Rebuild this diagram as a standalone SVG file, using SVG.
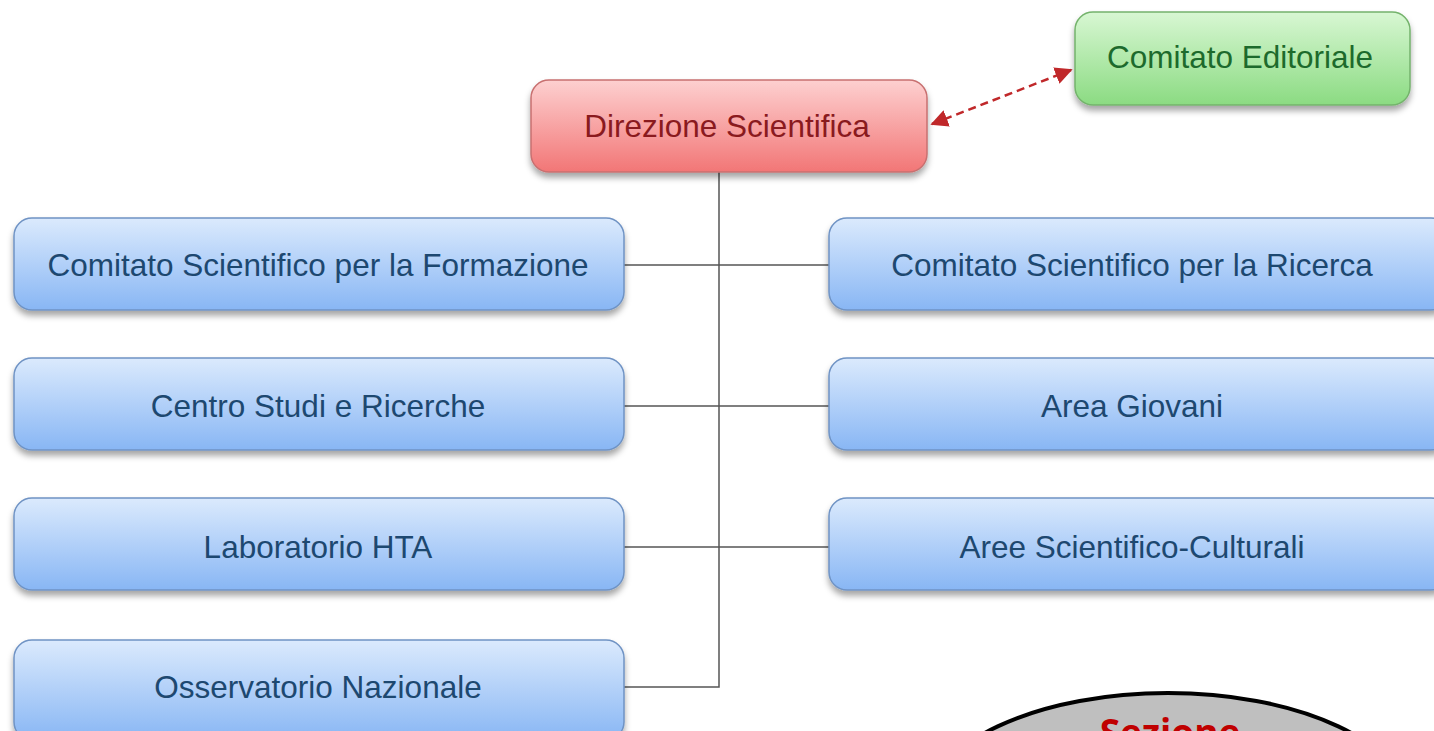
<svg xmlns="http://www.w3.org/2000/svg" width="1434" height="731" viewBox="0 0 1434 731">
<defs>
<linearGradient id="gBlue" x1="0" y1="0" x2="0" y2="1"><stop offset="0" stop-color="#dbeafd"/><stop offset="1" stop-color="#88b6f4"/></linearGradient>
<linearGradient id="gRed" x1="0" y1="0" x2="0" y2="1"><stop offset="0" stop-color="#fdd0d0"/><stop offset="1" stop-color="#f27676"/></linearGradient>
<linearGradient id="gGreen" x1="0" y1="0" x2="0" y2="1"><stop offset="0" stop-color="#d8f7d3"/><stop offset="1" stop-color="#8bdb82"/></linearGradient>
<filter id="sh" x="-10%" y="-20%" width="120%" height="150%"><feDropShadow dx="0" dy="5" stdDeviation="3" flood-color="#000" flood-opacity="0.35"/></filter>
<marker id="arr" viewBox="0 0 10 10" refX="9" refY="5" markerWidth="7" markerHeight="7" orient="auto-start-reverse"><path d="M0,0 L10,5 L0,10 z" fill="#c0282a"/></marker>
<style>
.b{fill:url(#gBlue);stroke:#6f93c4;stroke-width:1.5;filter:url(#sh)}
.r{fill:url(#gRed);stroke:#c87070;stroke-width:1.5;filter:url(#sh)}
.g{fill:url(#gGreen);stroke:#74b36c;stroke-width:1.5;filter:url(#sh)}
text{font-family:"Liberation Sans",Arial,sans-serif;font-size:31.5px;text-anchor:middle}
.tb{fill:#1d4870}
.tr{fill:#8a1a1e}
.tg{fill:#1d6a2c}
.c{stroke:#555;stroke-width:1.5;fill:none}
</style>
</defs>
<g id="connectors">
<path class="c" d="M719,172 V687 H624"/>
<path class="c" d="M624,265 H829"/>
<path class="c" d="M624,406 H829"/>
<path class="c" d="M624,547 H829"/>
<line x1="932" y1="124" x2="1071" y2="70" stroke="#c0282a" stroke-width="2.5" stroke-dasharray="8,5" marker-start="url(#arr)" marker-end="url(#arr)"/>
</g>
<g id="direzione"><rect class="r" x="531" y="80" width="396" height="92" rx="18"/><text class="tr" x="727" y="137">Direzione Scientifica</text></g>
<g id="editoriale"><rect class="g" x="1075" y="12" width="335" height="93" rx="18"/><text class="tg" x="1240" y="68">Comitato Editoriale</text></g>
<g id="formazione"><rect class="b" x="14" y="218" width="610" height="92" rx="18"/><text class="tb" x="318" y="276">Comitato Scientifico per la Formazione</text></g>
<g id="centro"><rect class="b" x="14" y="358" width="610" height="92" rx="18"/><text class="tb" x="318" y="417">Centro Studi e Ricerche</text></g>
<g id="hta"><rect class="b" x="14" y="498" width="610" height="92" rx="18"/><text class="tb" x="318" y="558">Laboratorio HTA</text></g>
<g id="osservatorio"><rect class="b" x="14" y="640" width="610" height="100" rx="18"/><text class="tb" x="318" y="698">Osservatorio Nazionale</text></g>
<g id="ricerca"><rect class="b" x="829" y="218" width="620" height="92" rx="18"/><text class="tb" x="1132" y="276">Comitato Scientifico per la Ricerca</text></g>
<g id="giovani"><rect class="b" x="829" y="358" width="620" height="92" rx="18"/><text class="tb" x="1132" y="417">Area Giovani</text></g>
<g id="aree"><rect class="b" x="829" y="498" width="620" height="92" rx="18"/><text class="tb" x="1132" y="558">Aree Scientifico-Culturali</text></g>
<g id="sezione"><ellipse cx="1168" cy="806" rx="240" ry="113" fill="#bfbfbf" stroke="#000" stroke-width="4"/><text x="1170" y="746" style="font-family:'Open Sans','Noto Sans',sans-serif;font-weight:bold;font-size:37px;fill:#c00000">Sezione</text></g>
</svg>
